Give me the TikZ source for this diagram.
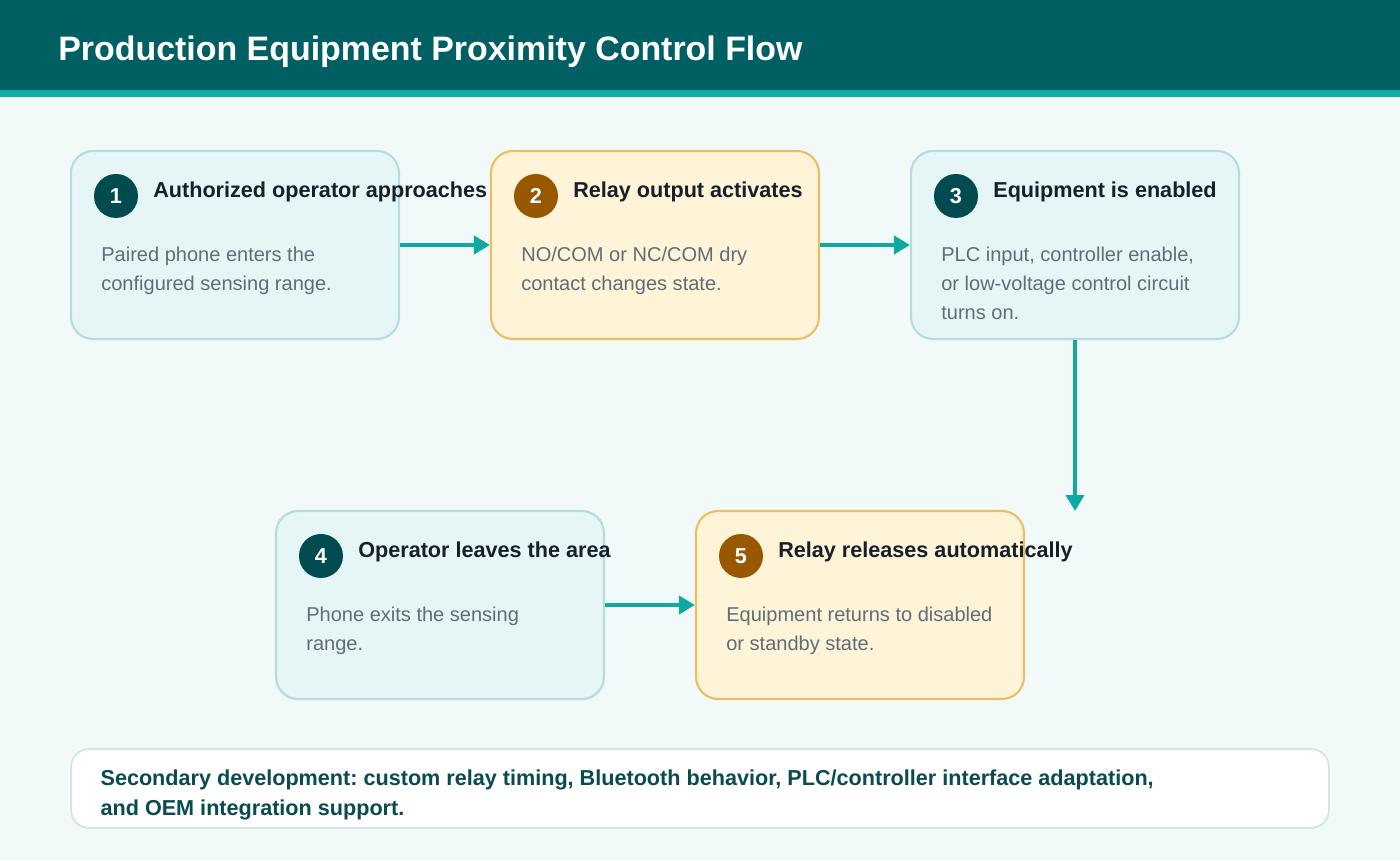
\documentclass[tikz,border=0pt]{standalone}
\usepackage{fontspec}
\setmainfont{Liberation Sans}
\usetikzlibrary{calc,arrows.meta}
\frenchspacing

\definecolor{pagebg}{HTML}{F2F9F9}
\definecolor{headteal}{HTML}{005F63}
\definecolor{stripeteal}{HTML}{0FADA6}
\definecolor{boxline}{HTML}{B5DCE0}
\definecolor{boxfill}{HTML}{E6F6F7}
\definecolor{relayline}{HTML}{E8BF62}
\definecolor{relayfill}{HTML}{FFF3D8}
\definecolor{badgedark}{HTML}{004B4F}
\definecolor{badgebrown}{HTML}{985800}
\definecolor{titleink}{HTML}{15202B}
\definecolor{bodyink}{HTML}{5E6E78}
\definecolor{flowteal}{HTML}{0EAAA2}
\definecolor{noteline}{HTML}{D3E4E6}
\definecolor{noteink}{HTML}{0A4B52}

\begin{document}
\begin{tikzpicture}[x=0.02cm,y=-0.02cm,
  stepbox/.style={draw=boxline,fill=boxfill,line width=1.2pt,rounded corners=0.44cm,
    minimum width=6.56cm,minimum height=3.76cm,inner sep=0},
  relaybox/.style={stepbox,draw=relayline,fill=relayfill},
  badge/.style={circle,fill=badgedark,minimum size=0.88cm,inner sep=0,text=white,
    font=\fontsize{12.3}{14}\selectfont\bfseries},
  relaybadge/.style={badge,fill=badgebrown},
  steptitle/.style={anchor=base west,inner sep=0,text=titleink,
    font=\fontsize{12.3}{15}\selectfont\bfseries},
  stepbody/.style={anchor=north west,inner sep=0,align=left,text=bodyink,
    font=\fontsize{11.4}{16.44}\selectfont},
  flow/.style={draw=flowteal,line width=2.3pt,-{Triangle[length=0.32cm,width=0.36cm]}},
  notebox/.style={draw=noteline,fill=white,line width=1pt,rounded corners=0.36cm,
    minimum width=25.16cm,minimum height=1.58cm,inner sep=0},
  notetext/.style={anchor=north west,inner sep=0,align=left,text=noteink,
    font=\fontsize{12.3}{17}\selectfont\bfseries}
]
% Page
\fill[pagebg] (0,0) rectangle (1400,860);
\useasboundingbox (0,0) rectangle (1400,860);

% Header
\fill[headteal] (0,0) rectangle (1400,90);
\fill[stripeteal] (0,90) rectangle (1400,97);
\node[anchor=base west,inner sep=0,text=white,font=\fontsize{19.3}{22}\selectfont\bfseries]
  (head) at (58,60) {Production Equipment Proximity Control Flow};

% Step boxes
\node[stepbox] (s1) at (235,245) {};
\node[relaybox] (s2) at (655,245) {};
\node[stepbox] (s3) at (1075,245) {};
\node[stepbox] (s4) at (440,605) {};
\node[relaybox] (s5) at (860,605) {};

% Step 1
\node[badge] (n1) at ($(s1.north west)+(46,46)$) {1};
\node[steptitle] (t1) at ($(s1.north west)+(83,48)$) {Authorized operator approaches};
\node[stepbody] (d1) at ($(s1.north west)+(31,97)$) {Paired phone enters the\\configured sensing range.};

% Step 2
\node[relaybadge] (n2) at ($(s2.north west)+(46,46)$) {2};
\node[steptitle] (t2) at ($(s2.north west)+(83,48)$) {Relay output activates};
\node[stepbody] (d2) at ($(s2.north west)+(31,97)$) {NO/COM or NC/COM dry\\contact changes state.};

% Step 3
\node[badge] (n3) at ($(s3.north west)+(46,46)$) {3};
\node[steptitle] (t3) at ($(s3.north west)+(83,48)$) {Equipment is enabled};
\node[stepbody] (d3) at ($(s3.north west)+(31,97)$) {PLC input, controller enable,\\or low-voltage control circuit\\turns on.};

% Step 4
\node[badge] (n4) at ($(s4.north west)+(46,46)$) {4};
\node[steptitle] (t4) at ($(s4.north west)+(83,48)$) {Operator leaves the area};
\node[stepbody] (d4) at ($(s4.north west)+(31,97)$) {Phone exits the sensing\\range.};

% Step 5
\node[relaybadge] (n5) at ($(s5.north west)+(46,46)$) {5};
\node[steptitle] (t5) at ($(s5.north west)+(83,48)$) {Relay releases automatically};
\node[stepbody] (d5) at ($(s5.north west)+(31,97)$) {Equipment returns to disabled\\or standby state.};

% Arrows
\coordinate (drop) at (1075,511);
\draw[flow] (s1.east) -- (s2.west);
\draw[flow] (s2.east) -- (s3.west);
\draw[flow] (s3.south) -- (drop);
\draw[flow] (s4.east) -- (s5.west);

% Note
\node[notebox] (note) at (700,788.5) {};
\node[notetext] (nt) at ($(note.north west)+(30,21)$) {Secondary development: custom relay timing, Bluetooth behavior, PLC/controller interface adaptation,\\and OEM integration support.};
\end{tikzpicture}
\end{document}
